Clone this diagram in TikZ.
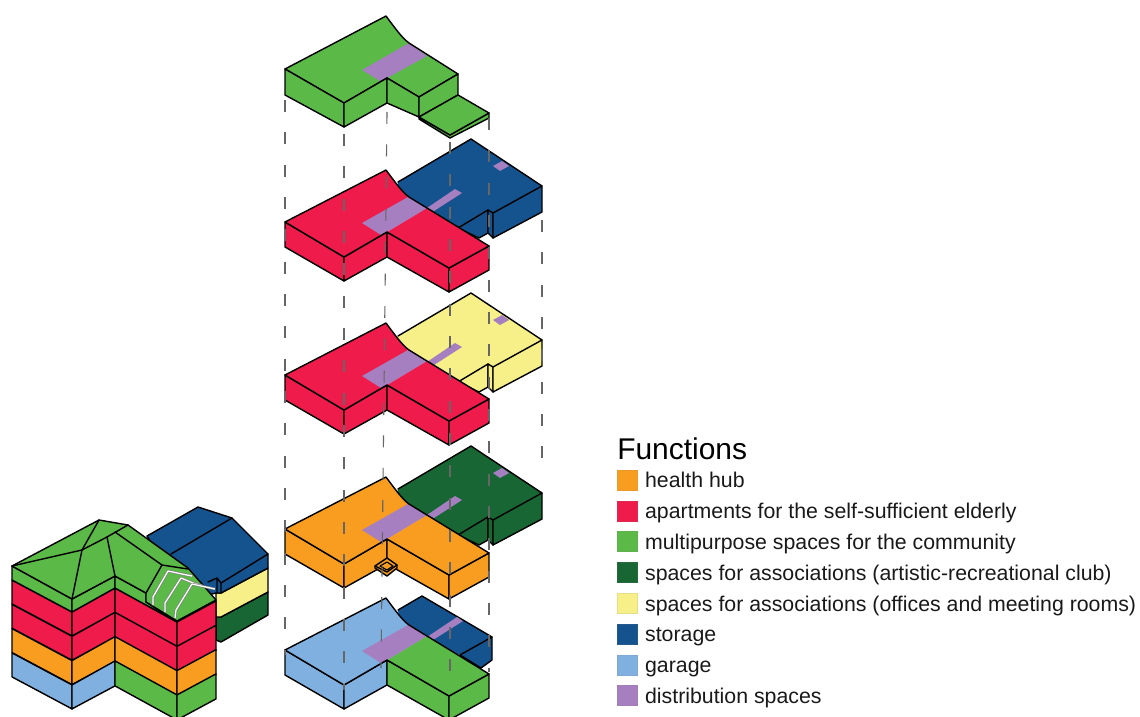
\documentclass[tikz,border=0pt]{standalone}
\usepackage{fontspec}
\setmainfont{Liberation Sans}
\usetikzlibrary{positioning}
\definecolor{hub}{HTML}{F99D20}
\definecolor{flats}{HTML}{EE1B4B}
\definecolor{multi}{HTML}{5AB947}
\definecolor{club}{HTML}{176633}
\definecolor{offices}{HTML}{F7EF88}
\definecolor{storage}{HTML}{15538F}
\definecolor{garage}{HTML}{7FB0E0}
\definecolor{distrib}{HTML}{A57FBF}
\tikzset{
  face/.style={draw=black, line width=1pt, line join=round},
  edge/.style={draw=black, line width=1pt, line join=round, line cap=round},
  guide/.style={draw=black!60, line width=0.8pt, dash pattern=on 8.5pt off 14.5pt},
  stairline/.style={draw=black!50, double=white, double distance=0.9pt, line width=0.45pt, line join=round},
  swatch/.style={minimum size=14.2pt, inner sep=0pt, draw=#1!85!gray, line width=0.4pt, fill=#1},
  legtext/.style={font=\fontsize{15.15pt}{18pt}\selectfont, inner sep=0pt, text height=13pt, text depth=1.7pt, text=black!90}
}
\newcommand{\backwing}[2]{
  \begin{scope}[shift={(0,#1)}]
    \fill[#2] (398,182) -- (471,139) -- (542,186) -- (493,213) -- (488,210) -- (458,228) -- (430,215) -- (395,200) -- cycle;
    \draw[face, fill=#2] (458,228) -- (488,210) -- (488,233) -- (479,238) -- cycle;
    \draw[face, fill=#2] (488,210) -- (493,213) -- (493,238) -- (488,233) -- cycle;
    \draw[face, fill=#2] (493,213) -- (542,186) -- (542,212) -- (493,238) -- cycle;
    \draw[edge] (398,182) -- (471,139) -- (542,186);
    \fill[distrib] (427,208) -- (455,189) -- (462,193) -- (434,211) -- cycle;
    \fill[distrib] (493,166) -- (502,161) -- (509,166) -- (500,171) -- cycle;
  \end{scope}
}
\newcommand{\frontwing}[3]{
  \begin{scope}[shift={(0,#1)}]
    \draw[face, fill=#2] (285,222) -- (344,257) -- (344,281) -- (285,247) -- cycle;
    \draw[face, fill=#2] (344,257) -- (387,232) -- (387,257) -- (344,281) -- cycle;
    \draw[face, fill=#3] (387,232) -- (449,268) -- (449,292) -- (387,257) -- cycle;
    \draw[face, fill=#3] (449,268) -- (489,246) -- (489,270) -- (449,292) -- cycle;
    \fill[#2] (285,222) -- (386,170) .. controls (395,182) and (402,192) .. (409,197) -- (427,208) -- (387,232) -- (344,257) -- cycle;
    \fill[#3] (387,232) -- (427,208) -- (489,246) -- (449,268) -- cycle;
    \fill[distrib] (362,223) -- (408,197) -- (427,208) -- (387,232) -- (381,235) -- cycle;
    \draw[edge] (344,257) -- (285,222) -- (386,170) .. controls (395,182) and (402,192) .. (409,197) -- (489,246) -- (449,268) -- (387,232) -- cycle;
  \end{scope}
}
\begin{document}
\begin{tikzpicture}[x=0.025cm, y=-0.025cm]
  \useasboundingbox (0,0) rectangle (1140,717);

  \draw[face, fill=club] (216,617) -- (221,617) -- (268,592) -- (268,615) -- (221,642) -- (216,640) -- cycle;
  \draw[face, fill=offices] (216,593) -- (221,593) -- (268,568) -- (268,592) -- (221,617) -- (216,617) -- cycle;
  \draw[face, fill=storage] (147,536) -- (198,507) -- (232,518) -- (268,554) -- (268,568) -- (221,593) -- (216,593) -- (188,600) -- cycle;
  \draw[edge] (171,554) -- (232,518) (221,583) -- (268,554) (208,582) -- (217,578) -- (221,583) -- (221,593) (217,578) -- (217,593);

  \foreach \k/\cola/\colb in {0/flats/flats,1/flats/flats,2/hub/hub,3/garage/multi} {
    \begin{scope}[shift={({0},{24.3*\k})}]
      \draw[face, fill=\cola] (12,580) -- (72,612) -- (72,636) -- (12,604) -- cycle;
      \draw[face, fill=\cola] (72,612) -- (115,588) -- (115,613) -- (72,636) -- cycle;
      \draw[face, fill=\colb] (115,588) -- (177,622) -- (177,647) -- (115,613) -- cycle;
      \draw[face, fill=\colb] (177,622) -- (216,601) -- (216,626) -- (177,647) -- cycle;
    \end{scope}
  }
  \draw[face, fill=multi] (12,566) -- (72,599) -- (72,612) -- (12,580) -- cycle;
  \draw[face, fill=multi] (72,599) -- (115,576) -- (115,588) -- (72,612) -- cycle;
  \draw[face, fill=multi] (115,576) -- (146,593) -- (146,602) -- (177,622) -- (115,588) -- cycle;
  \draw[face, fill=multi] (12,566) -- (99,520) -- (128,525) -- (188,568) -- (216,600) -- (177,621) -- (146,602) -- (146,593) -- (115,576) -- (72,599) -- cycle;
  \draw[edge] (12,566) -- (82,550) -- (107,537) -- (128,525);
  \draw[edge] (99,520) -- (82,550) -- (72,599);
  \draw[edge] (107,537) -- (115,576);
  \draw[edge] (115,532) -- (162,565) -- (188,569);
  \draw[edge] (162,565) -- (146,593);
  \draw[stairline] (153,605) -- (153,597) -- (168,571) -- (182,574) -- (192,576);
  \draw[stairline] (165,612) -- (165,603) -- (181,578) -- (193,583) -- (203,586);
  \draw[stairline] (175,618) -- (176,610) -- (192,584) -- (215,589);

  \fill[multi] (285,69) -- (386,16) .. controls (395,28) and (402,38) .. (409,43) -- (458,74) -- (419,97) -- (387,78) -- (344,103) -- cycle;
  \fill[distrib] (362,70) -- (409,43) -- (427,56) -- (387,78) -- (380,81) -- cycle;
  \draw[edge] (344,103) -- (285,69) -- (386,16) .. controls (395,28) and (402,38) .. (409,43) -- (458,74) -- (419,97) -- (387,78) -- cycle;
  \draw[face, fill=multi] (285,69) -- (344,103) -- (344,127) -- (285,95) -- cycle;
  \draw[face, fill=multi] (344,103) -- (387,78) -- (387,103) -- (344,127) -- cycle;
  \draw[face, fill=multi] (387,78) -- (419,97) -- (419,117) -- (387,103) -- cycle;
  \draw[face, fill=multi] (419,97) -- (458,74) -- (458,95) -- (419,117) -- cycle;
  \draw[face, fill=multi] (419,119) -- (450,138) -- (489,118) -- (489,113) -- (450,135) -- (419,117) -- cycle;
  \draw[face, fill=multi] (419,117) -- (458,95) -- (489,113) -- (450,135) -- cycle;

  \backwing{0}{storage}
  \frontwing{0}{flats}{flats}
  \backwing{154}{offices}
  \frontwing{153}{flats}{flats}
  \backwing{307}{club}
  \frontwing{307}{hub}{hub}
  \draw[face, fill=hub] (375,566) -- (375,568) -- (387,576) -- (397,568) -- (397,565) -- (387,558) -- cycle;
  \draw[edge] (375,566) -- (387,572) -- (397,565);
  \draw[face, line width=0.8pt] (380,566) -- (387,562) -- (393,566) -- (387,570) -- cycle;

  \fill[storage] (398,610) -- (422,596) -- (492,637) -- (460,655) -- (427,640) -- (400,628) -- cycle;
  \draw[face, fill=storage] (460,655) -- (492,637) -- (492,660) -- (481,668) -- cycle;
  \draw[edge] (398,610) -- (422,596) -- (492,637);
  \fill[distrib] (427,637) -- (457,617) -- (463,621) -- (433,640) -- cycle;
  \frontwing{428}{garage}{multi}

  \foreach \gx/\gy/\gz/\gw in {285/100/285/655,344/134/344/690,387/112/381/668,450/142/450/690,489/118/489/672,542/220/542/470} {
    \draw[guide] (\gx,\gy) -- (\gz,\gw);
  }

  \node[font=\fontsize{21.3pt}{24pt}\selectfont, inner sep=0pt, anchor=base west] (legtitle) at (617,459.5) {Functions};
  \foreach \i/\col/\lab in {
    0/hub/{health hub},
    1/flats/{apartments for the self-sufficient elderly},
    2/multi/{multipurpose spaces for the community},
    3/club/{spaces for associations (artistic-recreational club)},
    4/offices/{spaces for associations (offices and meeting rooms)},
    5/storage/{storage},
    6/garage/{garage},
    7/distrib/{distribution spaces}} {
    \node[swatch=\col] (sw\i) at (627,{480+30.8*\i}) {};
    \node[legtext, right=5.4pt of sw\i] (lab\i) {\lab};
  }
\end{tikzpicture}
\end{document}
